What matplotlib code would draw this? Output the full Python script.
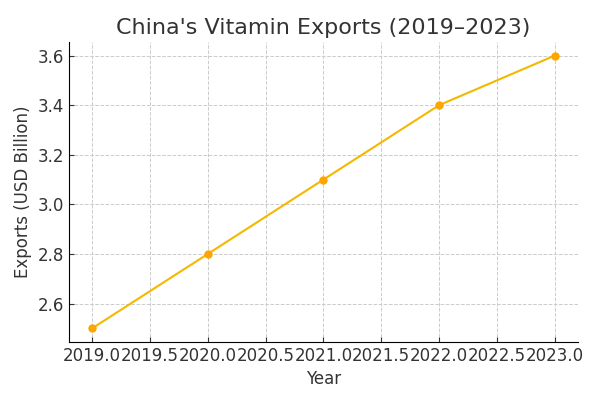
import matplotlib
matplotlib.use("Agg")
import matplotlib.pyplot as plt

years = [2019, 2020, 2021, 2022, 2023]
exports = [2.5, 2.8, 3.1, 3.4, 3.6]

fig, ax = plt.subplots(figsize=(6, 4), dpi=100)
ax.plot(years, exports, color="#F5B800", linewidth=1.5, marker="o",
        markersize=5, markerfacecolor="#FFA500", markeredgecolor="#FFA500")

ax.set_title("China's Vitamin Exports (2019\u20132023)", fontsize=16, color="#333333")
ax.set_xlabel("Year", fontsize=12, color="#333333")
ax.set_ylabel("Exports (USD Billion)", fontsize=12, color="#333333")
ax.set_xticks([2019.0, 2019.5, 2020.0, 2020.5, 2021.0, 2021.5, 2022.0, 2022.5, 2023.0])
ax.set_xticklabels(["2019.0", "2019.5", "2020.0", "2020.5", "2021.0", "2021.5",
                    "2022.0", "2022.5", "2023.0"])
ax.tick_params(direction="in", labelsize=12, colors="#333333")
ax.grid(True, linestyle="--", color="#cccccc", linewidth=0.7)
ax.spines["top"].set_visible(False)
ax.spines["right"].set_visible(False)

fig.subplots_adjust(left=0.115, right=0.963, top=0.895, bottom=0.145)
fig.savefig("out.png")
